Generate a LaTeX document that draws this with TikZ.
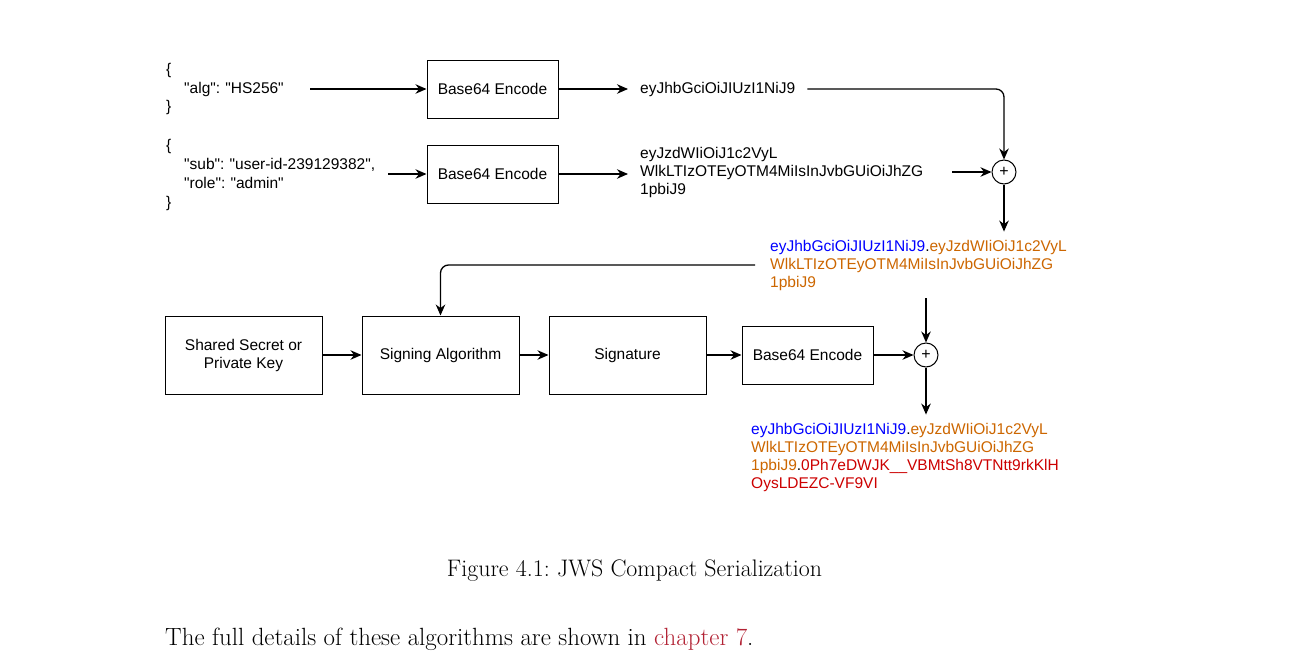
\documentclass[tikz,border=0pt]{standalone}
\usepackage{fontspec}
\usetikzlibrary{arrows.meta}
\newfontfamily\diagfont{Liberation Sans}
\definecolor{hblue}{RGB}{0,0,255}
\definecolor{horange}{RGB}{204,102,0}
\definecolor{hred}{RGB}{204,0,0}
\definecolor{linkred}{RGB}{178,34,52}
\frenchspacing
\tikzset{
  arr/.style={line width=1.3pt,-{Stealth[length=11pt,width=9.5pt,inset=3.5pt]}},
  boxnode/.style={draw,line width=1pt,inner sep=0pt,font=\diagfont\fontsize{15.5}{18}\selectfont},
  txt/.style={inner ysep=2pt,align=left,font=\diagfont\fontsize{15.5}{18}\selectfont},
  plusnode/.style={draw,circle,line width=1pt,minimum size=24pt,inner sep=0pt,font=\diagfont\fontsize{16}{16}\selectfont},
  serif/.style={inner sep=0pt}
}
\begin{document}
\begin{tikzpicture}[x=1pt,y=-1pt]
\useasboundingbox (0,0) rectangle (1293,664);
% top row
\node[txt,inner xsep=0pt,text width=144pt,anchor=west,font=\diagfont\fontsize{15.5}{18.5}\selectfont] (json1) at (166,89)
  {\{\\\hspace*{18pt}"alg": "HS256"\\\}};
\node[boxnode,minimum width=131pt,minimum height=58pt] (b1) at (492.5,89) {Base64 Encode};
\node[txt,inner xsep=12pt,anchor=west] (t1) at (628,89) {eyJhbGciOiJIUzI1NiJ9};
% second row
\node[txt,inner xsep=0pt,text width=222pt,anchor=west,font=\diagfont\fontsize{15.5}{18.8}\selectfont] (json2) at (166,175)
  {\{\\\hspace*{18pt}"sub": "user-id-239129382",\\\hspace*{18pt}"role": "admin"\\\}};
\node[boxnode,minimum width=131pt,minimum height=58pt] (b2) at (492.5,174) {Base64 Encode};
\node[txt,inner xsep=12pt,text width=300pt,anchor=west] (t2) at (628,172)
  {eyJzdWIiOiJ1c2VyL\\WlkLTIzOTEyOTM4MiIsInJvbGUiOiJhZG\\1pbiJ9};
\node[plusnode] (p1) at (1004,172) {+};
% combined header.payload
\node[txt,inner xsep=15pt,inner ysep=8pt,text width=310pt,anchor=west] (c1) at (755,265)
  {\textcolor{hblue}{eyJhbGciOiJIUzI1NiJ9}.\textcolor{horange}{eyJzdWIiOiJ1c2VyL}\\
   \textcolor{horange}{WlkLTIzOTEyOTM4MiIsInJvbGUiOiJhZG}\\
   \textcolor{horange}{1pbiJ9}};
% bottom row
\node[boxnode,minimum width=157pt,minimum height=78pt,align=center] (key) at (243.5,355) {Shared Secret or\\Private Key};
\node[boxnode,minimum width=157pt,minimum height=78pt] (sig) at (440.5,355) {Signing Algorithm};
\node[boxnode,minimum width=157pt,minimum height=78pt] (sgn) at (627.5,355) {Signature};
\node[boxnode,minimum width=131pt,minimum height=58pt] (b3) at (807.5,355) {Base64 Encode};
\node[plusnode] (p2) at (926,355) {+};
% final token
\node[txt,inner xsep=0pt,inner ysep=8pt,text width=330pt,anchor=west] (f1) at (751,457)
  {\textcolor{hblue}{eyJhbGciOiJIUzI1NiJ9}.\textcolor{horange}{eyJzdWIiOiJ1c2VyL}\\
   \textcolor{horange}{WlkLTIzOTEyOTM4MiIsInJvbGUiOiJhZG}\\
   \textcolor{horange}{1pbiJ9}.\textcolor{hred}{0Ph7eDWJK\_\_VBMtSh8VTNtt9rkKlH}\\
   \textcolor{hred}{OysLDEZC-VF9VI}};
% caption and body text
\node[serif,anchor=base,font=\fontsize{23.9}{28}\selectfont] (cap) at (634.5,576) {Figure 4.1: JWS Compact Serialization};
\node[serif,anchor=base west,font=\fontsize{24.9}{29}\selectfont] (body) at (165,645) {The full details of these algorithms are shown in \textcolor{linkred}{chapter 7}.};
% connectors
\draw[arr] (json1.east) -- (b1.west);
\draw[arr] (b1.east) -- (t1.west);
\draw[arr,rounded corners=8pt] (t1.east) -| (p1.north);
\draw[arr] (json2.east |- b2.west) -- (b2.west);
\draw[arr] (b2.east) -- (b2.east -| t2.west);
\draw[arr] (t2.east) -- (p1.west);
\draw[arr] (p1.south) -- (p1.south |- c1.north);
\draw[arr,rounded corners=8pt] (c1.west) -| (sig.north);
\draw[arr] (key.east) -- (sig.west);
\draw[arr] (sig.east) -- (sgn.west);
\draw[arr] (sgn.east) -- (b3.west);
\draw[arr] (b3.east) -- (p2.west);
\draw[arr] (c1.south -| p2.north) -- (p2.north);
\draw[arr] (p2.south) -- (p2.south |- f1.north);
\end{tikzpicture}
\end{document}
